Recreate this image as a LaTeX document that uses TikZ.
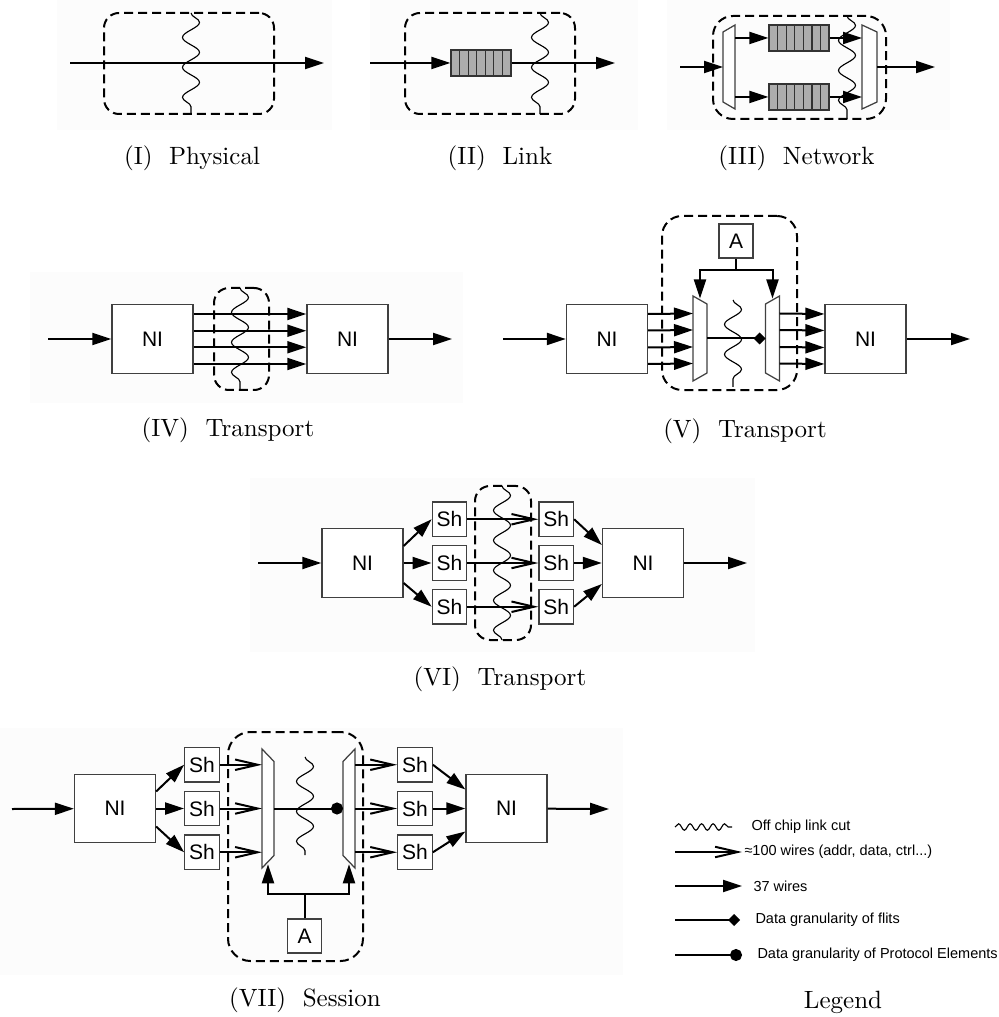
\documentclass[tikz,border=0pt]{standalone}
\usepackage{fontspec}
\setsansfont{Liberation Sans}
\usetikzlibrary{arrows.meta,positioning,calc,decorations.pathmorphing}

\tikzset{
  blk/.style    ={draw=black!75,line width=0.5pt,fill=white,inner sep=0pt,
                  font=\sffamily\fontsize{8.4}{9}\selectfont},
  ni/.style     ={blk,minimum width=32.4pt,minimum height=27.4pt},
  shbox/.style  ={blk,minimum width=13.8pt,minimum height=13.8pt},
  arb/.style    ={blk,minimum width=13.6pt,minimum height=13.6pt},
  queue/.style  ={draw=black!80,line width=0.5pt,fill=black!32,inner sep=0pt,
                  minimum width=24pt,minimum height=10.4pt,
                  path picture={\foreach \i in {1,...,6}
                    \draw[black!80,line width=0.5pt]
                      ($(path picture bounding box.south west)!\i/7!(path picture bounding box.south east)$) --
                      ($(path picture bounding box.north west)!\i/7!(path picture bounding box.north east)$);}},
  trapbox/.style={inner sep=0pt,outer sep=0pt},
  trap/.style   ={draw=black!75,line width=0.5pt,fill=white},
  zone/.style   ={draw,dash pattern=on 3.6pt off 2pt,line width=0.8pt,
                  rounded corners=6pt,inner sep=0pt},
  flow/.style   ={-{Triangle[length=7.6pt,width=4.8pt]},line width=0.8pt},
  wide/.style   ={-{Straight Barb[length=9pt,width=4.2pt]},line width=0.8pt},
  flit/.style   ={-{Diamond[length=4.8pt,width=4.8pt]},line width=0.8pt},
  pelem/.style  ={-{Circle[length=4.8pt]},line width=0.8pt},
  wavy/.style   ={decorate,decoration={snake,segment length=12pt,amplitude=3.4pt},
                  line width=0.45pt},
  captext/.style={font=\fontsize{10}{12}\selectfont},
  legtext/.style={anchor=west,inner sep=0pt,font=\sffamily\fontsize{5.8}{7}\selectfont},
  panel/.style  ={fill=black!1,draw=none}
}

\begin{document}
\begin{tikzpicture}[x=0.4pt,y=-0.4pt]
  \useasboundingbox (0,0) rectangle (998,1017);

  % (I) physical
  \fill[panel] (57,0) rectangle (332,130);
  \node[zone,minimum width=68pt,minimum height=40.4pt] (zphy) at (189,63.5) {};
  \coordinate (phyin) at (70,63);
  \coordinate (phyout) at (324,63);
  \draw[flow] (phyin) -- (phyout);
  \draw[wavy] (191,13) -- (191,114);
  \node[captext] (capphy) at (192,158) {(I)\ \ Physical};

  % (II) link
  \fill[panel] (370,0) rectangle (638,130);
  \node[zone,minimum width=68pt,minimum height=40.4pt] (zlnk) at (490,63.5) {};
  \node[queue] (qlnk) at (481,63) {};
  \coordinate (lnkin) at (370,63);
  \coordinate (lnkout) at (615,63);
  \draw[flow] (lnkin) -- (qlnk);
  \draw[flow] (qlnk) -- (lnkout);
  \draw[wavy] (540,13) -- (540,114);
  \node[captext] (caplnk) at (500,158) {(II)\ \ Link};

  % (III) network
  \fill[panel] (667,0) rectangle (950,130);
  \node[zone,rounded corners=8pt,minimum width=69.2pt,minimum height=41.2pt] (znet) at (799.5,67.5) {};
  \node[trapbox,minimum width=4.8pt,minimum height=33.6pt] (dmnet) at (729,67) {};
  \node[trapbox,minimum width=6pt,minimum height=33.6pt] (mxnet) at (869.5,67) {};
  \draw[trap] (dmnet.north east) -- (dmnet.south east) -- ([yshift=2.8pt]dmnet.south west)
    -- ([yshift=-2.8pt]dmnet.north west) -- cycle;
  \draw[trap] (mxnet.north west) -- (mxnet.south west) -- ([yshift=2.8pt]mxnet.south east)
    -- ([yshift=-2.8pt]mxnet.north east) -- cycle;
  \node[queue] (qnta) at (799,38) {};
  \node[queue] (qntb) at (799,97) {};
  \coordinate (netin) at (680,67);
  \coordinate (netout) at (935,67);
  \draw[flow] (netin) -- (dmnet);
  \draw[flow] (dmnet.east |- qnta) -- (qnta);
  \draw[flow] (dmnet.east |- qntb) -- (qntb);
  \draw[flow] (qnta) -- (mxnet.west |- qnta);
  \draw[flow] (qntb) -- (mxnet.west |- qntb);
  \draw[flow] (mxnet) -- (netout);
  \draw[wavy] (847,16) -- (847,119);
  \node[captext] (capnet) at (796.5,158) {(III)\ \ Network};

  % (IV) transport, parallel wires
  \fill[panel] (30,272) rectangle (463,403);
  \node[ni] (nitl) at (152.5,339) {NI};
  \node[ni] (nitr) at (347.5,339) {NI};
  \node[zone,minimum width=22pt,minimum height=40.8pt] (ztra) at (241.5,339) {};
  \coordinate (train) at (48,339);
  \coordinate (traout) at (452,339);
  \draw[flow] (train) -- (nitl);
  \draw[flow] (nitr) -- (traout);
  \foreach \dy in {10,3.3,-3.3,-10}
    \draw[flow] ([yshift=\dy pt]nitl.east) -- ([yshift=\dy pt]nitr.west);
  \draw[wavy] (240,288) -- (240,390);
  \node[captext] (captra) at (228,430) {(IV)\ \ Transport};

  % (V) transport, serialised
  \node[ni] (nivl) at (607,339) {NI};
  \node[ni] (nivr) at (865.5,339) {NI};
  \node[zone,rounded corners=8pt,minimum width=54pt,minimum height=69.6pt] (zvtr) at (729.5,303) {};
  \node[trapbox,minimum width=5.6pt,minimum height=34pt] (mxv) at (700,338.5) {};
  \node[trapbox,minimum width=5.6pt,minimum height=34pt] (dmv) at (772.5,338.5) {};
  \draw[trap] (mxv.north west) -- (mxv.south west) -- ([yshift=3.2pt]mxv.south east)
    -- ([yshift=-3.2pt]mxv.north east) -- cycle;
  \draw[trap] (dmv.north east) -- (dmv.south east) -- ([yshift=3.2pt]dmv.south west)
    -- ([yshift=-3.2pt]dmv.north west) -- cycle;
  \node[arb] (arbv) at (736,241) {A};
  \coordinate (vin) at (503,339);
  \coordinate (vout) at (970,339);
  \draw[flow] (vin) -- (nivl);
  \draw[flow] (nivr) -- (vout);
  \foreach \dy in {10,3.4,-3.4,-10}{
    \draw[flow] ([yshift=\dy pt]nivl.east) -- ([yshift=\dy pt]mxv.west);
    \draw[flow] ([yshift=\dy pt]dmv.east) -- ([yshift=\dy pt]nivr.west);}
  \draw[flit] (mxv) -- (dmv);
  \coordinate (jv) at (736,270);
  \draw[line width=0.8pt] (arbv) -- (jv);
  \draw[flow] (jv) -| ([yshift=-1pt]mxv.north);
  \draw[flow] (jv) -| ([yshift=-1pt]dmv.north);
  \draw[wavy] (733,300) -- (733,387);
  \node[captext] (capvtr) at (745,431) {(V)\ \ Transport};

  % (VI) transport, shells
  \fill[panel] (250,478) rectangle (755,652);
  \node[ni] (nisl) at (362.5,563) {NI};
  \node[ni] (nisr) at (643,563) {NI};
  \node[shbox] (shlb) at (449.5,563) {Sh};
  \node[shbox,above=3.2pt of shlb] (shla) {Sh};
  \node[shbox,below=3.2pt of shlb] (shlc) {Sh};
  \node[shbox,right=28.4pt of shlb] (shrb) {Sh};
  \node[shbox,above=3.2pt of shrb] (shra) {Sh};
  \node[shbox,below=3.2pt of shrb] (shrc) {Sh};
  \node[zone,minimum width=22.4pt,minimum height=61.6pt] (zsh) at (503,563) {};
  \coordinate (shin) at (258,563);
  \coordinate (shout) at (747,563);
  \draw[flow] (shin) -- (nisl);
  \draw[flow] (nisr) -- (shout);
  \draw[flow] ([yshift=6.8pt]nisl.east) -- (shla.west);
  \draw[flow] (nisl) -- (shlb);
  \draw[flow] ([yshift=-8pt]nisl.east) -- (shlc.west);
  \foreach \r in {a,b,c}
    \draw[wide] (shl\r) -- (shr\r);
  \draw[flow] (shra.east) -- ([yshift=7.2pt]nisr.west);
  \draw[flow] (shrb) -- (nisr);
  \draw[flow] (shrc.east) -- ([yshift=-8.4pt]nisr.west);
  \draw[wavy] (502,486) -- (502,640);
  \node[captext] (capsh) at (500,679) {(VI)\ \ Transport};

  % (VII) session
  \fill[panel] (0,728) rectangle (623,975);
  \node[ni] (nisnl) at (115,808.5) {NI};
  \node[ni] (nisnr) at (506.5,808.5) {NI};
  \node[shbox] (shpb) at (202,808.5) {Sh};
  \node[shbox,above=3.2pt of shpb] (shpa) {Sh};
  \node[shbox,below=3.2pt of shpb] (shpc) {Sh};
  \node[shbox] (shqb) at (415,808.5) {Sh};
  \node[shbox,above=3.2pt of shqb] (shqa) {Sh};
  \node[shbox,below=3.2pt of shqb] (shqc) {Sh};
  \node[zone,rounded corners=9pt,minimum width=54pt,minimum height=91.6pt] (zses) at (295.5,846.5) {};
  \node[trapbox,minimum width=4.8pt,minimum height=47.6pt] (mxs) at (268,808.5) {};
  \node[trapbox,minimum width=4.8pt,minimum height=47.6pt] (dms) at (349,808.5) {};
  \draw[trap] (mxs.north west) -- (mxs.south west) -- ([yshift=5pt]mxs.south east)
    -- ([yshift=-5pt]mxs.north east) -- cycle;
  \draw[trap] (dms.north east) -- (dms.south east) -- ([yshift=5pt]dms.south west)
    -- ([yshift=-5pt]dms.north west) -- cycle;
  \node[arb] (arbs) at (304.5,936) {A};
  \coordinate (sesin) at (12,809);
  \coordinate (sesout) at (609,809);
  \draw[flow] (sesin) -- (nisnl);
  \draw[flow] (nisnr) -- (sesout);
  \draw[flow] ([yshift=6.8pt]nisnl.east) -- (shpa.west);
  \draw[flow] (nisnl) -- (shpb);
  \draw[flow] ([yshift=-7.2pt]nisnl.east) -- (shpc.west);
  \foreach \r in {a,b,c}{
    \draw[wide] (shp\r) -- (mxs.west |- shp\r);
    \draw[wide] (dms.east |- shq\r) -- (shq\r);}
  \draw[pelem] (mxs) -- (dms);
  \draw[flow] (shqa.east) -- ([yshift=7.6pt]nisnr.west);
  \draw[flow] (shqb) -- (nisnr);
  \draw[flow] (shqc.east) -- ([yshift=-9.2pt]nisnr.west);
  \coordinate (js) at (304.5,894);
  \draw[line width=0.8pt] (arbs) -- (js);
  \draw[flow] (js) -| ([yshift=1.5pt]mxs.south);
  \draw[flow] (js) -| ([yshift=1.5pt]dms.south);
  \draw[wavy] (305,757) -- (305,855);
  \node[captext] (capses) at (305,1000) {(VII)\ \ Session};

  % legend
  \coordinate (lcuta) at (675,827);
  \coordinate (lcutb) at (732,827);
  \draw[wavy,decoration={snake,segment length=4.6pt,amplitude=1.3pt}] (lcuta) -- (lcutb);
  \node[legtext] (lgcut) at (751,827) {Off chip link cut};
  \coordinate (lwida) at (675,852);
  \coordinate (lwidb) at (742,852);
  \draw[wide] (lwida) -- (lwidb);
  \node[legtext] (lgwid) at (744,852) {≈100 wires (addr, data, ctrl...)};
  \coordinate (lnara) at (675,886);
  \coordinate (lnarb) at (742,886);
  \draw[flow] (lnara) -- (lnarb);
  \node[legtext] (lgnar) at (753,886) {37 wires};
  \coordinate (lflta) at (675,920);
  \coordinate (lfltb) at (740,920);
  \draw[flit] (lflta) -- (lfltb);
  \node[legtext] (lgflt) at (755,920) {Data granularity of flits};
  \coordinate (lpela) at (675,955);
  \coordinate (lpelb) at (742,955);
  \draw[pelem] (lpela) -- (lpelb);
  \node[legtext] (lgpel) at (757,955) {Data granularity of Protocol Elements};
  \node[captext] (capleg) at (843,1002) {Legend};
\end{tikzpicture}
\end{document}
